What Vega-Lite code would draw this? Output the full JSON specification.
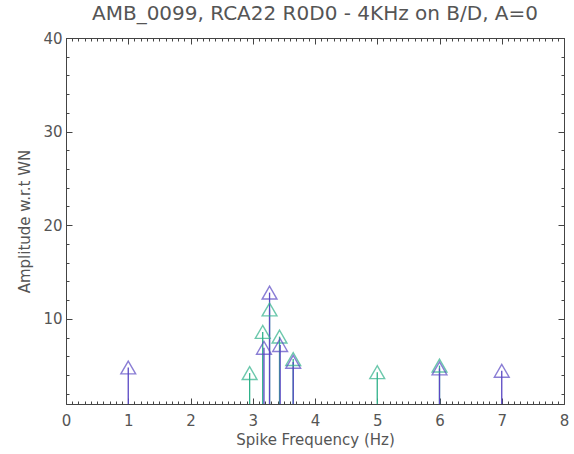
{
  "$schema": "https://vega.github.io/schema/vega-lite/v6.json",
  "width": 498,
  "height": 366,
  "autosize": "none",
  "padding": {"left": 66, "top": 38, "right": 10, "bottom": 50},
  "background": "white",
  "title": {"text": "AMB_0099, RCA22 R0D0 - 4KHz on B/D, A=0", "font": "DejaVu Sans", "fontSize": 20, "fontWeight": "normal", "color": "#555555", "offset": 7, "anchor": "middle"},
  "config": {
    "view": {"stroke": "#444444", "strokeWidth": 1},
    "axis": {"grid": false, "domain": false, "labelFlush": false, "tickColor": "#444444", "labelFont": "DejaVu Sans", "labelFontSize": 15, "labelColor": "#555555", "titleFont": "DejaVu Sans", "titleFontSize": 15, "titleFontWeight": "normal", "titleColor": "#555555"}
  },
  "data": {"values": [
    {"f": 1.0, "a": 4.8, "s": "B"},
    {"f": 2.95, "a": 4.2, "s": "G"},
    {"f": 3.16, "a": 8.6, "s": "G"},
    {"f": 3.18, "a": 6.9, "s": "B"},
    {"f": 3.27, "a": 11.0, "s": "G"},
    {"f": 3.27, "a": 12.8, "s": "B"},
    {"f": 3.43, "a": 8.1, "s": "G"},
    {"f": 3.44, "a": 7.2, "s": "B"},
    {"f": 3.65, "a": 5.7, "s": "G"},
    {"f": 3.65, "a": 5.4, "s": "B"},
    {"f": 5.0, "a": 4.3, "s": "G"},
    {"f": 6.0, "a": 5.0, "s": "G"},
    {"f": 6.0, "a": 4.7, "s": "B"},
    {"f": 7.0, "a": 4.45, "s": "B"}
  ]},
  "layer": [
    {
      "mark": {"type": "rule", "strokeWidth": 1.3},
      "encoding": {
        "x": {"field": "f", "type": "quantitative", "scale": {"domain": [0, 8], "nice": false, "padding": 0},
              "axis": {"orient": "bottom", "values": [0,1,2,3,4,5,6,7,8], "tickSize": -6, "labelPadding": 15, "title": "Spike Frequency (Hz)", "titlePadding": 4}},
        "y": {"field": "a", "type": "quantitative", "scale": {"domain": [0.9, 40], "nice": false, "zero": false, "padding": 0},
              "axis": {"orient": "left", "values": [10, 20, 30, 40], "tickSize": -6, "labelPadding": 10, "title": "Amplitude w.r.t WN", "titlePadding": 10}},
        "y2": {"datum": 0.9},
        "color": {"field": "s", "type": "nominal", "scale": {"domain": ["B", "G"], "range": ["#5a48c4", "#2fb28a"]}, "legend": null}
      }
    },
    {
      "mark": {"type": "point", "shape": "triangle-up", "filled": false, "size": 220, "strokeWidth": 1.4},
      "encoding": {
        "x": {"field": "f", "type": "quantitative",
              "axis": {"orient": "bottom", "tickCount": 80, "tickSize": -3, "labels": false, "title": null}},
        "y": {"field": "a", "type": "quantitative",
              "axis": {"orient": "left", "tickCount": 20, "tickSize": -3, "labels": false, "title": null}},
        "color": {"field": "s", "type": "nominal", "scale": {"domain": ["B", "G"], "range": ["#5540c8", "#62de8c"]}, "legend": null}
      }
    },
    {
      "mark": {"type": "point", "opacity": 0},
      "encoding": {
        "x": {"field": "f", "type": "quantitative",
              "axis": {"orient": "top", "values": [0,1,2,3,4,5,6,7,8], "tickSize": -6, "labels": false, "title": null}},
        "y": {"field": "a", "type": "quantitative",
              "axis": {"orient": "right", "values": [10, 20, 30, 40], "tickSize": -6, "labels": false, "title": null}}
      }
    },
    {
      "mark": {"type": "point", "opacity": 0},
      "encoding": {
        "x": {"field": "f", "type": "quantitative",
              "axis": {"orient": "top", "tickCount": 80, "tickSize": -3, "labels": false, "title": null}},
        "y": {"field": "a", "type": "quantitative",
              "axis": {"orient": "right", "tickCount": 20, "tickSize": -3, "labels": false, "title": null}}
      }
    }
  ],
  "resolve": {"axis": {"x": "independent", "y": "independent"}}
}
